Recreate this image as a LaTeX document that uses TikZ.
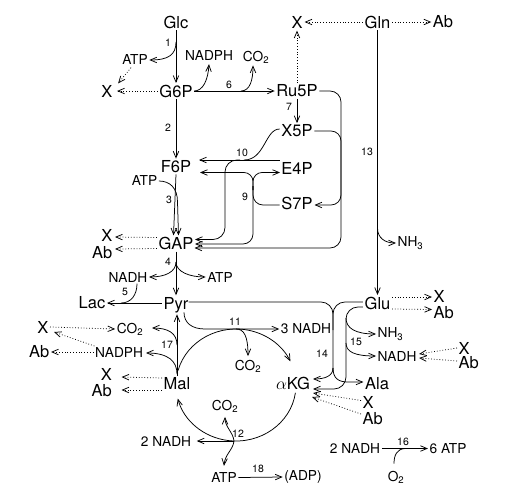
\documentclass[tikz,border=0pt]{standalone}
\usepackage{fontspec}
\setmainfont{TeX Gyre Heros}
\usetikzlibrary{arrows.meta,calc}
\tikzset{
 lbl/.style={font=\fontsize{16.5}{19}\selectfont, inner sep=1.5pt},
 xab/.style={lbl, inner sep=0.4pt},
 sml/.style={font=\fontsize{13.7}{16}\selectfont, inner sep=1.5pt},
 num/.style={font=\fontsize{10.5}{12}\selectfont, inner sep=0pt},
 ln/.style={line width=0.75pt},
 flow/.style={ln, -{Straight Barb[length=6.5pt,width=5.5pt]}},
 drain/.style={ln, dash pattern=on 0.8pt off 2pt, -{Straight Barb[length=6.5pt,width=5.5pt]}},
}
\begin{document}
\begin{tikzpicture}[x=1pt,y=1pt,yscale=-1]
\useasboundingbox (0,0) rectangle (516,493);
% main nodes
\node[lbl] (Glc) at (176,22) {Glc};
\node[lbl] (G6P) at (176,91) {G6P};
\node[xab] (Xg) at (107,91) {X};
\node[lbl] (Ru5P) at (297,91) {Ru5P};
\node[xab] (Xr) at (297,22) {X};
\node[lbl] (Gln) at (377.5,22) {Gln};
\node[xab] (Abq) at (443,22) {Ab};
\node[lbl] (X5P) at (297,131) {X5P};
\node[lbl] (E4P) at (297,168) {E4P};
\node[lbl] (S7P) at (297,203) {S7P};
\node[lbl] (F6P) at (176,166.5) {F6P};
\node[lbl] (GAP) at (176,243.5) {GAP};
\node[xab, anchor=east] (Xgap) at (113,235.5) {X};
\node[xab, anchor=east] (Abgap) at (113,252.5) {Ab};
\node[lbl] (Lac) at (92,303) {Lac};
\node[lbl, anchor=base] (Pyr) at (176,309) {Pyr};
\node[lbl] (Glu) at (377.5,303) {Glu};
\node[lbl] (Mal) at (177,384) {Mal};
\node[lbl] (AKG) at (293,383.5) {$\alpha$KG};
\node[lbl] (Ala) at (377,383.5) {Ala};
\node[xab, anchor=east] (Xmal) at (112.5,374) {X};
\node[xab, anchor=east] (Abmal) at (112.5,391) {Ab};
\node[xab, anchor=west] (Xglu) at (433,296) {X};
\node[xab, anchor=west] (Abglu) at (433,312.5) {Ab};
\node[xab, anchor=west] (Xnadh) at (458,348) {X};
\node[xab, anchor=west] (Abnadh) at (458,363) {Ab};
\node[xab, anchor=west] (Xakg) at (362,402.5) {X};
\node[xab, anchor=west] (Abakg) at (362,419) {Ab};
\node[xab, anchor=east] (Xl) at (49,327) {X};
\node[xab, anchor=east] (Abl) at (50,352) {Ab};
% small nodes
\node[sml] (ATPa) at (135,60) {ATP};
\node[sml] (NADPHa) at (209,56) {NADPH};
\node[sml] (CO2a) at (256,57.5) {CO\textsubscript{2}};
\node[sml] (ATPb) at (144.5,181) {ATP};
\node[sml] (NADHa) at (128,277) {NADH};
\node[sml] (ATPc) at (220,277) {ATP};
\node[sml] (CO2l) at (130,329) {CO\textsubscript{2}};
\node[sml] (NADPHl) at (119,352) {NADPH};
\node[sml] (NADH3) at (306,329) {3 NADH};
\node[sml] (CO2m) at (248,366) {CO\textsubscript{2}};
\node[sml, anchor=west] (NH3g) at (396,243) {NH\textsubscript{3}};
\node[sml, anchor=west] (NH3u) at (376,334) {NH\textsubscript{3}};
\node[sml, anchor=west] (NADHu) at (376,356) {NADH};
\node[sml] (CO2b) at (225,406) {CO\textsubscript{2}};
\node[sml] (NADH2l) at (166,441) {2 NADH};
\node[sml] (ATPd) at (224,477.5) {ATP};
\node[sml] (ADP) at (303,477) {(ADP)};
\node[sml] (NADH2r) at (355,448.5) {2 NADH};
\node[sml] (ATP6) at (448,448.5) {6 ATP};
\node[sml] (O2) at (396,477.5) {O\textsubscript{2}};
% numbers
\node[num] (n1) at (168,43) {1};
\node[num] (n2) at (168,128) {2};
\node[num] (n3) at (169,200) {3};
\node[num] (n4) at (168,262) {4};
\node[num] (n5) at (125,292) {5};
\node[num] (n6) at (229,85) {6};
\node[num] (n7) at (289,107) {7};
\node[num] (n9) at (245,197) {9};
\node[num] (n10) at (242,152.5) {10};
\node[num] (n11) at (235,322) {11};
\node[num] (n12) at (238,434) {12};
\node[num] (n13) at (367,152) {13};
\node[num] (n14) at (322,354) {14};
\node[num] (n15) at (356,342) {15};
\node[num] (n16) at (403,442) {16};
\node[num] (n17) at (167,345) {17};
\node[num] (n18) at (258,468.5) {18};
% reaction 1
\draw[flow] (Glc) -- (G6P);
\coordinate (j1) at (176,42);
\draw[flow] (j1) .. controls (176,55) and (168,60) .. (ATPa.east);
\draw[drain] ($(ATPa.south)+(-4,1)$) -- ($(Xg.north east)+(5,-1)$);
\draw[drain] (G6P.west) -- ($(Xg.east)+(4,0)$);
% reaction 6
\draw[flow] (G6P.east) -- (Ru5P.west);
\draw[flow] (G6P.east) .. controls (203,91) and (208,80) .. ($(NADPHa.south)+(0,1.5)$);
\coordinate (j6) at (241,91);
\draw[flow] (j6) .. controls (250,91) and (253,80) .. ($(CO2a.south)+(-3,0)$);
\draw[drain] (Ru5P.north) -- ($(Xr.south)+(0,2)$);
\draw[drain] (Gln.west) -- ($(Xr.east)+(1.5,0)$);
\draw[drain] (Gln.east) -- ($(Abq.west)+(-1,0)$);
% reaction 13
\draw[flow] (Gln.south) -- (Glu.north);
\coordinate (j13) at (377.5,228);
\draw[flow] (j13) .. controls (377.5,238) and (385,243) .. (NH3g.west);
% reaction 7 and transketolase
\draw[flow] (Ru5P.south) -- (X5P.north);
\draw[flow, rounded corners=11pt] (Ru5P.east) -- (341,91) -- (341,248) -- (194.5,248);
\draw[flow, rounded corners=10pt] (X5P.east) -- (341,131) -- (341,205) -- (314.5,205);
% reaction 10
\draw[ln] ($(X5P.west)+(0,-2)$) .. controls (265,129) and (265,160) .. (244,160);
\draw[flow] (E4P.west |- 0,160) -- (199,160);
\draw[flow, rounded corners=12pt] (240,160) -- (225,160) -- (225,239.5) -- (195,239.5);
% reaction 9
\draw[flow, rounded corners=9pt] (253,190) -- (253,172.5) -- (200,172.5);
\draw[flow, rounded corners=9pt] (253,190) -- (253,172.5) -- (280,172.5);
\draw[ln, rounded corners=10pt] ($(S7P.west)+(0,2)$) -- (253,205) -- (253,186);
\draw[flow, rounded corners=10pt] (253,186) -- (253,244) -- (195,244);
% reaction 2, 3
\draw[flow] (G6P.south) -- (F6P.north);
\draw[flow] (F6P.south) -- ($(GAP.north)+(-2.5,0)$);
\draw[flow] (ATPb.east) .. controls (170,181) and (177.5,188) .. (177.5,202) -- ($(GAP.north)+(2.5,0)$);
\draw[drain] ($(GAP.west)+(0,-6)$) -- ($(Xgap.east)+(2,1.5)$);
\draw[drain] ($(GAP.west)+(0,5)$) -- ($(Abgap.east)+(2,-3.5)$);
% reaction 4
\draw[flow] (GAP.south) -- (Pyr.north);
\coordinate (j4) at (176,262);
\draw[flow] (j4) .. controls (176,272) and (165,277) .. (NADHa.east);
\draw[flow] (j4) .. controls (176,272) and (190,277) .. (ATPc.west);
% reaction 5
\draw[flow] (Lac.east -| Pyr.west) -- (Lac.east);
\draw[ln] ($(NADHa.south)+(9,0)$) .. controls (137,295) and (131,303) .. (121,303);
% reaction 14
\draw[ln, rounded corners=12pt] (188.5,302) -- (333,302) -- (333,372);
\draw[ln, rounded corners=12pt] (Glu.west |- 0,302) -- (333,302) -- (333,330);
\coordinate (j14) at (333,368);
\draw[flow] (j14) .. controls (333,376) and (325,379) .. (313,379);
\draw[flow] (j14) .. controls (333,378) and (338,382) .. (348,382) -- (Ala.west |- 0,382);
% reaction 15
\draw[flow, rounded corners=12pt] (Glu.west |- 0,307) -- (346,307) -- (346,389) -- (313,389);
\coordinate (j15a) at (346,318);
\coordinate (j15b) at (346,343);
\draw[flow] (j15a) .. controls (346,328) and (355,334) .. (NH3u.west);
\draw[flow] (j15b) .. controls (346,352) and (355,356) .. (NADHu.west);
\draw[drain] ($(Glu.east)+(0,-6)$) -- ($(Xglu.west)+(-1,1)$);
\draw[drain] ($(Glu.east)+(0,6)$) -- ($(Abglu.west)+(-1,-3)$);
\draw[drain] ($(Xnadh.west)+(-1,0)$) -- ($(NADHu.east)+(1,-2)$);
\draw[drain] ($(Abnadh.west)+(-1,-2)$) -- ($(NADHu.east)+(1,2)$);
\draw[drain] ($(Xakg.west)+(-1,-2)$) -- (313,393);
\draw[drain] ($(Abakg.west)+(-1,-5)$) -- (312,397);
% reaction 11 and cycle
\draw[flow] ($(Pyr.south)+(8,-2)$) .. controls (184,323) and (192,329) .. (205,329) -- (NADH3.west);
\coordinate (j11) at (236,329);
\draw[flow] (j11) .. controls (244,329) and (248,336) .. ($(CO2m.north)+(0,-2)$);
\coordinate (cc) at (236,385);
\draw[flow] ($(cc)+(-165:60 and 56)$) arc[start angle=-165, end angle=-25, x radius=60, y radius=56];
\draw[flow] ($(cc)+(8:60 and 56)$) arc[start angle=8, end angle=166, x radius=60, y radius=56];
% reaction 12
\coordinate (j12) at (234,441);
\draw[flow] (j12) -- ($(NADH2l.east)+(4,0)$);
\draw[flow] (j12) .. controls (233,432) and (225,427) .. ($(CO2b.south)+(0,3)$);
\draw[flow] (j12) .. controls (233,450) and (225,454) .. ($(ATPd.north)+(0,-5)$);
% reaction 18, 16
\draw[flow] (ATPd.east) -- (ADP.west);
\draw[flow] (NADH2r.east) -- (ATP6.west);
\draw[ln] ($(O2.north)+(-2,-6)$) .. controls (394,455) and (397,449) .. (405,448.5);
% reaction 17
\draw[flow] (Mal.north) -- (Mal.north |- Pyr.south);
\coordinate (j17a) at (177,345);
\coordinate (j17b) at (177,374);
\draw[flow] (j17a) .. controls (177,333) and (168,328) .. (152,328);
\draw[flow] (j17b) .. controls (177,361) and (168,353) .. (146,353);
\draw[drain] ($(Mal.west)+(0,-6)$) -- ($(Xmal.east)+(9,3)$);
\draw[drain] ($(Mal.west)+(0,6)$) -- ($(Abmal.east)+(9,-1)$);
% left drains
\draw[drain] ($(Xl.east)+(1,0)$) -- (CO2l.west);
\draw[drain] ($(NADPHl.west)+(1,-6)$) -- ($(Xl.east)+(5,5)$);
\draw[drain] (NADPHl.west) -- ($(Abl.east)+(1,0)$);
\end{tikzpicture}
\end{document}
